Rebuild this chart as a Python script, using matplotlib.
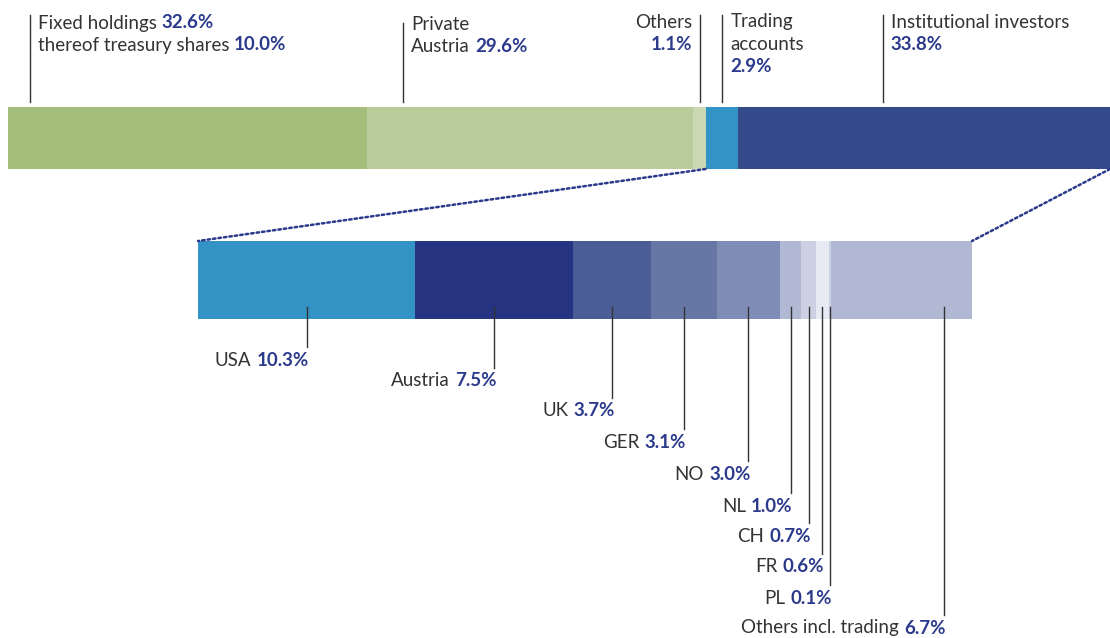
import matplotlib.pyplot as plt
from matplotlib.patches import ConnectionPatch

# shareholder structure, in %
groups = ["Fixed holdings", "Private Austria", "Others", "Trading accounts", "Institutional investors"]
group_shares = [32.6, 29.6, 1.1, 2.9, 33.8]
treasury_share = 10.0

# institutional investors + trading accounts by region, in %
regions = ["USA", "Austria", "UK", "GER", "NO", "NL", "CH", "FR", "PL", "Others incl. trading"]
region_shares = [10.3, 7.5, 3.7, 3.1, 3.0, 1.0, 0.7, 0.6, 0.1, 6.7]

group_colors = ["#a5be7c", "#bacb9c", "#cad8b4", "#3294c6", "#344a8a"]
region_colors = ["#3293c4", "#253381", "#4b5d97", "#6677a6", "#7f8cb6",
                 "#b0b8d3", "#cbd1e2", "#e7eaf3", "#cbd1e2", "#b0b8d3"]

TEXT = "#333333"
NUM = "#2c3a8c"
FONT = "Lato"
FS = 13.5
W, H = 1110, 638


def cumstart(values):
    out, acc = [], 0.0
    for v in values:
        out.append(acc)
        acc += v
    return out


def put(ax, xy, s, dx, ha, bold=False, coords="data"):
    va = "center" if coords == "data" else "bottom"
    return ax.annotate(s, xy, xycoords=coords, xytext=(dx, 0), textcoords="offset pixels",
                       ha=ha, va=va, fontsize=FS, family=FONT,
                       color=NUM if bold else TEXT,
                       fontweight="bold" if bold else "normal")


def label(ax, x, y, text, value, dx, ha):
    # grey text + bold blue value on one line
    if ha == "left":
        t = put(ax, (x, y), text, dx, "left")
        if value:
            put(ax, (1, 0), value, 5, "left", bold=True, coords=t)
    else:
        if not value:
            put(ax, (x, y), text, dx, "right")
            return
        t = put(ax, (x, y), value, dx, "right", bold=True)
        if text:
            put(ax, (0, 0), text, -5, "right", coords=t)


fig = plt.figure(figsize=(W / 100, H / 100), dpi=100)

# top bar, x in %, y in pixels from the top
ax_top = fig.add_axes([8 / W, 1 - 169 / H, 1102 / W, 169 / H])
ax_top.set_xlim(0, sum(group_shares))
ax_top.set_ylim(169, 0)
ax_top.axis("off")
g_start = cumstart(group_shares)
ax_top.barh(138, group_shares, left=g_start, height=62, color=group_colors, linewidth=0)

# leader lines top: position inside segment, top end
g_frac = [0.06, 0.11, 0.5, 0.5, 0.39]
g_top = [15, 23, 15, 15, 15]
gx = [s + f * v for s, f, v in zip(g_start, g_frac, group_shares)]
for x, t in zip(gx, g_top):
    ax_top.plot([x, x], [t, 102], color="#333333", lw=1.0, clip_on=False)

pct = lambda v: f"{v:.1f}%"
label(ax_top, gx[0], 23, "Fixed holdings", pct(group_shares[0]), 8, "left")
label(ax_top, gx[0], 45, "thereof treasury shares", pct(treasury_share), 8, "left")
label(ax_top, gx[1], 24, "Private", "", 8, "left")
label(ax_top, gx[1], 46, "Austria", pct(group_shares[1]), 8, "left")
label(ax_top, gx[2], 22, "Others", "", -7, "right")
label(ax_top, gx[2], 45, "", pct(group_shares[2]), -7, "right")
label(ax_top, gx[3], 22, "Trading", "", 9, "left")
label(ax_top, gx[3], 44, "accounts", "", 9, "left")
put(ax_top, (gx[3], 66), pct(group_shares[3]), 9, "left", bold=True)
label(ax_top, gx[4], 22, "Institutional investors", "", 8, "left")
put(ax_top, (gx[4], 45), pct(group_shares[4]), 8, "left", bold=True)

# bottom bar
ax_bot = fig.add_axes([198 / W, 0, 774 / W, (H - 241) / H])
ax_bot.set_xlim(0, sum(region_shares))
ax_bot.set_ylim(H, 241)
ax_bot.axis("off")
r_start = cumstart(region_shares)
ax_bot.barh(280, region_shares, left=r_start, height=78, color=region_colors, linewidth=0)

r_frac = [0.5] * 9 + [0.8]
r_rows = [360, 381, 411, 442, 474, 506, 536, 567, 598, 628]
for s, f, v, name, y in zip(r_start, r_frac, region_shares, regions, r_rows):
    x = s + f * v
    ax_bot.plot([x, x], [307, y - 13], color="#333333", lw=1.0, clip_on=False)
    label(ax_bot, x, y, name, pct(v), 2, "right")

# dotted zoom lines from trading + institutional to the breakdown
trade_start = g_start[3]
for xa, xb in [(trade_start, 0), (sum(group_shares), sum(region_shares))]:
    con = ConnectionPatch(xyA=(xa, 169), coordsA=ax_top.transData,
                          xyB=(xb, 241), coordsB=ax_bot.transData,
                          color=NUM, lw=1.8, linestyle=(0, (1, 1.2)))
    fig.add_artist(con)

fig.savefig("out.png", dpi=100)
plt.close(fig)
